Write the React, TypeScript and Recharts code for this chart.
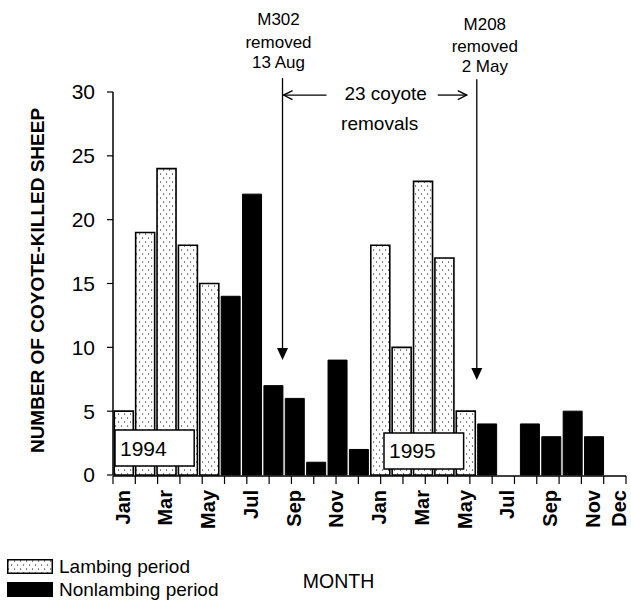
import React from 'react';
import { BarChart, Bar, XAxis, YAxis, ReferenceLine, ReferenceArea, Legend, Label } from 'recharts';

const FONT = '"Liberation Sans", Arial, Helvetica, sans-serif';

// ---------- data ----------
const categories = [
  'Jan 1994', 'Feb 1994', 'Mar 1994', 'Apr 1994', 'May 1994', 'Jun 1994',
  'Jul 1994', 'Aug 1994', 'Sep 1994', 'Oct 1994', 'Nov 1994', 'Dec 1994',
  'Jan 1995', 'Feb 1995', 'Mar 1995', 'Apr 1995', 'May 1995', 'Jun 1995',
  'Jul 1995', 'Aug 1995', 'Sep 1995', 'Oct 1995', 'Nov 1995', 'Dec 1995',
];
const tickLabels = [
  'Jan', '', 'Mar', '', 'May', '', 'Jul', '', 'Sep', '', 'Nov', '',
  'Jan', '', 'Mar', '', 'May', '', 'Jul', '', 'Sep', '', 'Nov', 'Dec',
];
const lambingKills = [5, 19, 24, 18, 15, null, null, null, null, null, null, null,
  18, 10, 23, 17, 5, null, null, null, null, null, null, null];
const nonlambingKills = [null, null, null, null, null, 14, 22, 7, 6, 1, 9, 2,
  null, null, null, null, null, 4, 0, 4, 3, 5, 3, 0];
const yTicks = [0, 5, 10, 15, 20, 25, 30];
const monthBoundaries = [0, 1, 2, 3, 4, 5, 6, 7, 8, 9, 10, 11, 12, 13, 14, 15, 16, 17, 18, 19, 20, 21, 22, 23, 24];

// removal events on the month scale (0 = start of Jan 1994)
const removalEvents = [
  { x: 7.6, top: 31.1, tip: 9.0, lines: ['M302', 'removed', '13 Aug'] },
  { x: 16.31, top: 31.0, tip: 7.44, lines: ['M208', 'removed', '2 May'] },
];
const removalSpan = { from: 7.6, to: 16.31, y: 29.76, lines: ['23 coyote', 'removals'] };

const yearBoxes = [
  { label: '1994', x1: 0.09, x2: 3.64, y1: 0.7, y2: 3.52 },
  { label: '1995', x1: 12.15, x2: 15.72, y1: 0.47, y2: 3.29 },
];

const legendItems = [
  { label: 'Lambing period', kind: 'dots' },
  { label: 'Nonlambing period', kind: 'solid' },
];

const data = categories.map((m, i) => ({
  m,
  lambing: lambingKills[i],
  nonlambing: nonlambingKills[i],
}));

// ---------- styling helpers ----------
const textStyle = [
  { dx: -4, base: [-53, -30, -10] },
  { dx: 8, base: [-49, -27, -7] },
];

const MonthTick = (props: any) => {
  const { x, y, payload } = props;
  const idx = categories.indexOf(payload.value);
  const label = tickLabels[idx];
  if (!label) return null;
  const shift = idx === categories.length - 1 ? 5 : 0;
  return (
    <text
      transform={`translate(${x + 6 + shift},${y + 15}) rotate(-90)`}
      textAnchor="end"
      fontFamily={FONT}
      fontSize={20}
      fontWeight="bold"
      fill="#000"
    >
      {label}
    </text>
  );
};

const YTitle = (props: any) => {
  const vb = props.viewBox || {};
  const cy = vb.y + vb.height / 2 - 3;
  const bx = vb.x + 43.5;
  return (
    <text
      transform={`translate(${bx},${cy}) rotate(-90)`}
      textAnchor="middle"
      fontFamily={FONT}
      fontSize={19}
      fontWeight="bold"
      fill="#000"
    >
      NUMBER OF COYOTE-KILLED SHEEP
    </text>
  );
};

const XTitle = (props: any) => {
  const vb = props.viewBox || {};
  return (
    <text
      x={vb.x + vb.width / 2 - 31}
      y={vb.y + 113}
      textAnchor="middle"
      fontFamily={FONT}
      fontSize={19.5}
      fill="#000"
    >
      MONTH
    </text>
  );
};

const makeRemovalShape = (lines: string[], style: { dx: number; base: number[] }) => (p: any) => {
  const { x1, y1, x2, y2 } = p;
  return (
    <g>
      <line x1={x1} y1={y1} x2={x2} y2={y2 - 10} stroke="#000" strokeWidth={1.3} />
      <polygon points={`${x2 - 5.5},${y2 - 12} ${x2 + 5.5},${y2 - 12} ${x2},${y2}`} fill="#000" />
      {lines.map((t, i) => (
        <text
          key={i}
          x={x1 + style.dx}
          y={y1 + style.base[i]}
          textAnchor="middle"
          fontFamily={FONT}
          fontSize={17}
          fill="#000"
        >
          {t}
        </text>
      ))}
    </g>
  );
};

const SpanShape = (p: any) => {
  const { x1, y1, x2 } = p;
  const y = y1;
  const mid = (x1 + x2) / 2;
  return (
    <g stroke="#000" strokeWidth={1.3} fill="none">
      <line x1={x1 + 1} y1={y} x2={x1 + 44} y2={y} />
      <polyline points={`${x1 + 10},${y - 4.5} ${x1 + 1},${y} ${x1 + 10},${y + 4.5}`} />
      <line x1={x2 - 39} y1={y} x2={x2 - 10} y2={y} />
      <polyline points={`${x2 - 19},${y - 4.5} ${x2 - 10},${y} ${x2 - 19},${y + 4.5}`} />
      <text x={mid + 6} y={y + 5} textAnchor="middle" fontFamily={FONT} fontSize={19} fill="#000" stroke="none">
        {removalSpan.lines[0]}
      </text>
      <text x={mid} y={y + 35} textAnchor="middle" fontFamily={FONT} fontSize={19} fill="#000" stroke="none">
        {removalSpan.lines[1]}
      </text>
    </g>
  );
};

const DotPattern = ({ id }: { id: string }) => (
  <pattern id={id} patternUnits="userSpaceOnUse" width={6} height={8}>
    <rect width={6} height={8} fill="#fff" />
    <rect x={1} y={1.5} width={1.1} height={1.1} fill="#222" />
    <rect x={4} y={5.5} width={1.1} height={1.1} fill="#222" />
  </pattern>
);

const LegendContent = () => (
  <div style={{ fontFamily: FONT, fontSize: 19, color: '#000', paddingLeft: 7 }}>
    {legendItems.map((it, i) => (
      <div key={i} style={{ display: 'flex', alignItems: 'center', height: 23 }}>
        <svg width={46} height={15} style={{ display: 'block' }}>
          {it.kind === 'dots' ? (
            <>
              <defs>
                <DotPattern id="legendDots" />
              </defs>
              <rect x={0.75} y={0.75} width={44.5} height={13.5} fill="url(#legendDots)" stroke="#000" strokeWidth={1.5} />
            </>
          ) : (
            <rect x={0} y={0} width={46} height={15} fill="#000" />
          )}
        </svg>
        <span style={{ marginLeft: 6, whiteSpace: 'nowrap', lineHeight: '21px' }}>{it.label}</span>
      </div>
    ))}
  </div>
);

export default function App() {
  return (
    <div style={{ position: 'absolute', left: 0, top: 0, background: '#fff' }}>
      <BarChart
        width={631}
        height={600}
        data={data}
        margin={{ top: 92, right: 5, bottom: 123, left: 0 }}
        barCategoryGap="6%"
      >
        <defs>
          <DotPattern id="barDots" />
        </defs>
        <XAxis
          xAxisId="b"
          type="number"
          domain={[0, 24]}
          ticks={monthBoundaries}
          interval={0}
          allowDataOverflow
          height={1}
          tickSize={8}
          tickFormatter={() => ''}
          axisLine={{ stroke: '#000', strokeWidth: 1.5 }}
          tickLine={{ stroke: '#000', strokeWidth: 1.2 }}
        />
        <XAxis
          dataKey="m"
          height={1}
          interval={0}
          tickSize={0}
          tickMargin={0}
          axisLine={false}
          tickLine={false}
          tick={(p: any) => <MonthTick {...p} />}
        >
          <Label content={XTitle} />
        </XAxis>
        <YAxis
          width={113}
          domain={[0, 30]}
          ticks={yTicks}
          interval={0}
          tickSize={6}
          tickMargin={12}
          axisLine={{ stroke: '#000', strokeWidth: 1.5 }}
          tickLine={{ stroke: '#000', strokeWidth: 1.2 }}
          tick={{ fill: '#000', fontSize: 21, fontFamily: FONT }}
        >
          <Label content={YTitle} />
        </YAxis>
        <Bar dataKey="lambing" stackId="k" fill="url(#barDots)" stroke="#000" strokeWidth={1.6} isAnimationActive={false} />
        <Bar dataKey="nonlambing" stackId="k" fill="#000" stroke="#000" strokeWidth={1} isAnimationActive={false} />
        {yearBoxes.map((b) => (
          <ReferenceArea
            key={b.label}
            xAxisId="b"
            x1={b.x1}
            x2={b.x2}
            y1={b.y1}
            y2={b.y2}
            ifOverflow="visible"
            fill="#fff"
            fillOpacity={1}
            stroke="#000"
            strokeWidth={1.5}
            zIndex={700}
            label={{ value: b.label, position: 'insideLeft', offset: 5, fontSize: 21, fill: '#000', fontFamily: FONT }}
          />
        ))}
        {removalEvents.map((r, i) => (
          <ReferenceLine
            key={r.lines[0]}
            xAxisId="b"
            ifOverflow="visible"
            segment={[{ x: r.x, y: r.top }, { x: r.x, y: r.tip }]}
            zIndex={800}
            shape={makeRemovalShape(r.lines, textStyle[i])}
          />
        ))}
        <ReferenceLine
          xAxisId="b"
          ifOverflow="visible"
          segment={[{ x: removalSpan.from, y: removalSpan.y }, { x: removalSpan.to, y: removalSpan.y }]}
          zIndex={800}
          shape={SpanShape}
        />
        <Legend
          layout="vertical"
          align="center"
          verticalAlign="middle"
          wrapperStyle={{ left: 0, top: 555, width: 300 }}
          content={LegendContent}
        />
      </BarChart>
    </div>
  );
}
